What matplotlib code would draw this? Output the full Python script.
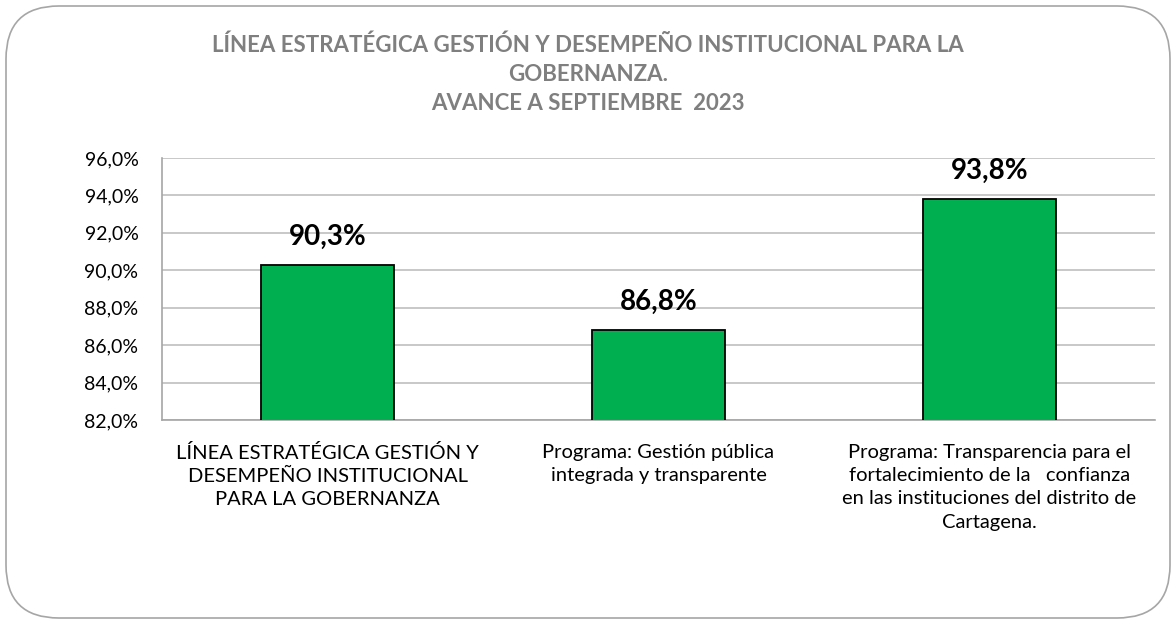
import numpy as np
import matplotlib
matplotlib.use("Agg")
import matplotlib.pyplot as plt
from matplotlib.patches import FancyBboxPatch
from matplotlib.ticker import FuncFormatter

categories = [
    "LÍNEA ESTRATÉGICA GESTIÓN Y\nDESEMPEÑO INSTITUCIONAL\nPARA LA GOBERNANZA",
    "Programa: Gestión pública\nintegrada y transparente",
    "Programa: Transparencia para el\nfortalecimiento de la   confianza\nen las instituciones del distrito de\nCartagena.",
]
values = [90.3, 86.8, 93.8]
title = ("LÍNEA ESTRATÉGICA GESTIÓN Y DESEMPEÑO INSTITUCIONAL PARA LA\n"
         "GOBERNANZA.\nAVANCE A SEPTIEMBRE  2023")

plt.rcParams["font.family"] = ["Lato", "DejaVu Sans"]

fig = plt.figure(figsize=(11.76, 6.24), dpi=100)
W, H = 1176, 624

# rounded outer frame
frame = FancyBboxPatch((6 / W, 6 / H), 1164 / W, 612 / H,
                       boxstyle="round,pad=0,rounding_size=0.045",
                       transform=fig.transFigure, facecolor="none",
                       edgecolor="#A6A6A6", linewidth=1.2,
                       mutation_aspect=W / H, zorder=-1)
fig.patches.append(frame)

ax = fig.add_axes([162 / W, 1 - 420 / H, (1155 - 162) / W, (420 - 158) / H])
ax.set_facecolor("none")

x = np.arange(len(values))
bars = ax.bar(x, values, width=0.4, bottom=0, color="#00B050",
              edgecolor="black", linewidth=1.3, zorder=3)

ax.set_ylim(82, 96)
ax.set_xlim(-0.5, 2.5)
ax.set_yticks(np.arange(82, 96.1, 2))
ax.yaxis.set_major_formatter(FuncFormatter(lambda v, p: f"{v:.1f}%".replace(".", ",")))
ax.tick_params(axis="y", length=0, labelsize=14, pad=17)
ax.tick_params(axis="x", length=0, labelsize=14.5, pad=17)
ax.set_xticks(x)
ax.set_xticklabels(categories, linespacing=1.45, va="top")
ax.grid(True, axis="y", color="#BFBFBF", linewidth=1.2, zorder=0)

for s in ["top", "right"]:
    ax.spines[s].set_visible(False)
ax.spines["left"].set_color("#A6A6A6")
ax.spines["bottom"].set_color("#A6A6A6")
ax.spines["left"].set_linewidth(1.2)
ax.spines["bottom"].set_linewidth(1.2)

for bar, val in zip(bars, values):
    ax.text(bar.get_x() + bar.get_width() / 2, val + 0.8,
            f"{val:.1f}%".replace(".", ","), ha="center", va="bottom",
            fontsize=20, fontweight="bold", color="black")

fig.text(0.5, 1 - 35 / H, title, ha="center", va="top", fontsize=16,
         fontweight="bold", color="#7F7F7F", linespacing=1.45)

plt.savefig("out.png", dpi=100)
plt.close()
